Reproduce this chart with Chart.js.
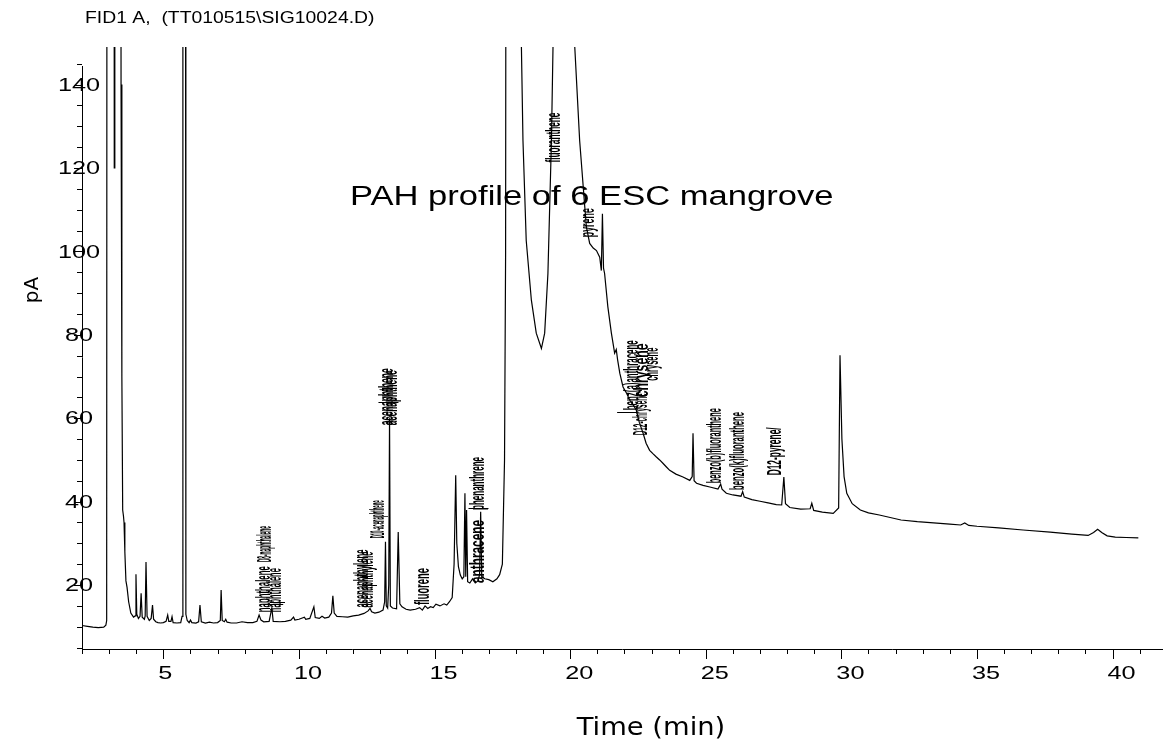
<!DOCTYPE html>
<html>
<head>
<meta charset="utf-8">
<script src="https://cdn.jsdelivr.net/npm/chart.js@4.4.0/dist/chart.umd.min.js"></script>
<style>
  html, body { margin: 0; padding: 0; background: #fff; }
  #chrom { display: block; }
</style>
</head>
<body>
<canvas id="chrom" width="1163" height="745"></canvas>
<script>
// retention time (min) and detector signal (pA)
// 400 = peak that runs off the top of the plot
const times = [
  2.00, 2.20, 2.40, 2.60, 2.80, 2.88, 2.91, 2.93, 3.17, 3.19, 3.21, 3.41, 3.44, 3.47, 3.50, 3.53, 3.55, 3.58, 3.62, 3.66,
  3.72, 3.80, 3.90, 3.96, 3.99, 4.02, 4.08, 4.14, 4.18, 4.22, 4.30, 4.33, 4.36, 4.40, 4.48, 4.55, 4.60, 4.64, 4.72, 4.80,
  4.90, 5.00, 5.10, 5.16, 5.20, 5.28, 5.32, 5.36, 5.50, 5.64, 5.69, 5.72, 5.80, 5.83, 5.88, 5.95, 6.00, 6.05, 6.20, 6.30,
  6.35, 6.40, 6.55, 6.70, 6.85, 7.00, 7.10, 7.13, 7.17, 7.25, 7.30, 7.35, 7.50, 7.70, 7.90, 8.10, 8.30, 8.45, 8.53, 8.60,
  8.70, 8.90, 9.00, 9.05, 9.30, 9.50, 9.70, 9.80, 9.85, 10.00, 10.20, 10.25, 10.40, 10.55, 10.60, 10.75, 10.85, 10.95, 11.10, 11.20,
  11.25, 11.30, 11.40, 11.60, 11.80, 12.00, 12.20, 12.40, 12.55, 12.62, 12.68, 12.80, 12.95, 13.10, 13.16, 13.19, 13.22, 13.27, 13.31, 13.34,
  13.37, 13.45, 13.60, 13.66, 13.72, 13.80, 13.95, 14.10, 14.30, 14.45, 14.55, 14.65, 14.75, 14.85, 14.95, 15.05, 15.20, 15.35, 15.45, 15.55,
  15.65, 15.72, 15.78, 15.82, 15.88, 15.95, 16.02, 16.08, 16.12, 16.15, 16.18, 16.22, 16.30, 16.40, 16.50, 16.60, 16.66, 16.70, 16.74, 16.85,
  17.00, 17.15, 17.30, 17.40, 17.50, 17.58, 17.62, 17.66, 18.15, 18.20, 18.26, 18.38, 18.57, 18.75, 18.94, 19.06, 19.18, 19.31, 19.37, 19.40,
  20.15, 20.17, 20.35, 20.54, 20.60, 20.72, 20.85, 20.97, 21.09, 21.15, 21.19, 21.23, 21.27, 21.39, 21.52, 21.64, 21.70, 21.75, 21.83, 21.95,
  22.08, 22.20, 22.30, 22.44, 22.55, 22.69, 22.80, 22.93, 23.05, 23.18, 23.30, 23.42, 23.55, 23.67, 23.90, 24.16, 24.41, 24.50, 24.53, 24.57,
  24.66, 24.90, 25.15, 25.45, 25.55, 25.60, 25.76, 26.00, 26.30, 26.36, 26.42, 26.70, 27.00, 27.30, 27.60, 27.80, 27.88, 27.94, 28.10, 28.50,
  28.85, 28.91, 28.98, 29.30, 29.70, 29.90, 29.95, 30.02, 30.10, 30.20, 30.40, 30.70, 31.00, 31.40, 31.80, 32.20, 32.80, 33.40, 34.00, 34.40,
  34.55, 34.70, 35.00, 35.80, 36.70, 37.70, 38.50, 39.10, 39.30, 39.45, 39.60, 39.80, 40.10, 40.50, 40.95
];
const signal = [
  10.3, 10.1, 9.9, 9.8, 9.9, 10.4, 11.5, 400, 400, 120, 400, 400, 140, 70, 38, 36.5, 35, 28, 21, 19.5,
  16, 13.3, 12.3, 12.6, 22.6, 13, 12, 12.5, 18, 12.3, 11.8, 12.6, 25.5, 12.5, 11.5, 12, 15.2, 11.8, 11.2, 11.0,
  10.9, 11.0, 11.3, 12.8, 11.3, 11.3, 12.4, 11.0, 10.9, 11.0, 12.5, 400, 400, 13, 11.5, 11.0, 11.6, 11.0, 10.9, 11.2,
  15.2, 11.2, 10.9, 11.1, 10.9, 11.0, 11.5, 18.8, 11.5, 11.2, 11.8, 11.1, 10.9, 10.9, 11.2, 11.0, 11.0, 11.3, 12.8, 11.6,
  11.2, 11.3, 14.5, 11.3, 11.2, 11.3, 11.6, 12.3, 11.6, 11.8, 12.3, 11.8, 12.0, 14.8, 12.2, 12.0, 12.5, 12.1, 12.3, 13.3,
  17.4, 13.3, 12.5, 12.4, 12.3, 12.6, 12.8, 13.2, 13.8, 14.4, 13.6, 13.3, 13.5, 14.0, 16, 30.4, 15, 14.5, 20, 60,
  15, 14.5, 14.3, 32.7, 15.5, 14.8, 14.2, 14.0, 14.2, 14.6, 14.0, 15.0, 14.4, 14.8, 14.6, 15.4, 15.0, 15.5, 15.2, 16.0,
  17.0, 25, 46.3, 30, 24.4, 22.4, 21.5, 22, 42, 22, 38, 20.8, 20.5, 21.5, 20.5, 21, 22.5, 37.6, 22, 21.5,
  21.3, 20.8, 21.5, 22.5, 25, 50, 100, 400, 400, 150, 126.6, 102.6, 88.3, 80.4, 76.7, 80.4, 94.7, 126.6, 150, 400,
  400, 149, 126.6, 110.6, 105.8, 101.9, 100.8, 100.2, 98.6, 95.4, 109, 96, 94.7, 86.7, 80.4, 75.6, 76.5, 74, 70.8, 67.5,
  66, 64.3, 63.5, 61.9, 59, 56.4, 54, 52.3, 51.5, 50.7, 50, 49.2, 48.3, 47.5, 46.6, 45.9, 45.1, 46, 56.4, 45,
  44.4, 43.9, 43.5, 43, 44.2, 43, 42, 41.6, 41.3, 42.4, 41.1, 40.5, 40.1, 39.7, 39.3, 39.2, 45.9, 39.5, 38.6, 38.2,
  38.3, 39.6, 37.9, 37.5, 37.2, 38.5, 75.1, 55, 46, 42, 39.5, 38, 37.3, 36.8, 36.2, 35.6, 35.2, 34.9, 34.6, 34.4,
  34.9, 34.3, 34.1, 33.7, 33.2, 32.7, 32.2, 31.9, 32.6, 33.4, 32.6, 31.8, 31.5, 31.4, 31.3
];

// peak annotations: retention time, signal where the label starts, name, label length (px)
const peakTimes  = [8.72, 8.75, 9.12, 12.35, 12.5, 12.92, 13.27, 13.4, 14.59, 16.6, 16.6, 19.43, 20.65, 22.27, 22.64, 22.62, 23.04, 25.34, 26.2, 27.56];
const peakLevels = [13.5, 25.5, 13.5, 14.6, 14.6, 31.2, 58.3, 58.3, 15.2, 20.5, 38.0, 121.3, 103.4, 61.9, 65.0, 55.9, 69.0, 44.4, 42.8, 46.3];
const peakNames  = ['naphthalene', 'D8-naphthalene', 'naphthalene', 'acenaphthylene', 'acenaphthylene', 'D10-acenaphthene',
  'acenaphthene', 'acenaphthene', 'fluorene', 'anthracene', 'phenanthrene', 'fluoranthene', 'pyrene',
  'benz(a)anthracene', 'chrysene', 'D12-chrysene', 'chrysene', 'benzo(b)fluoranthene', 'benzo(k)fluoranthene', 'D12-pyrene/'];
const peakLens   = [46, 36, 44, 58, 56, 38, 57, 55, 37, 63, 53, 50, 29, 70, 54, 42, 33, 75, 78, 48];

// short baseline marks drawn by the integrator next to some peaks
const markTimes  = [9.05, 13.3, 16.62, 22.1];
const markLevels = [15.4, 63.8, 38.4, 61.4];

const xTickMajor = [5, 10, 15, 20, 25, 30, 35, 40];
const yTickMajor = [20, 40, 60, 80, 100, 120, 140];

const points = times.map((t, i) => ({ x: t, y: signal[i] }));

// text helper: the original print is stretched sideways a little
function stretchedText(ctx, text, x, y, font, sx, align) {
  ctx.save();
  ctx.font = font;
  const w = ctx.measureText(text).width * sx;
  let left = x;
  if (align === 'center') left = x - w / 2;
  if (align === 'right') left = x - w;
  ctx.translate(left, y);
  ctx.scale(sx, 1);
  ctx.textAlign = 'left';
  ctx.fillText(text, 0, 0);
  ctx.restore();
}

const axesPlugin = {
  id: 'chemstationAxes',
  afterDraw(chart) {
    const ctx = chart.ctx;
    const xs = chart.scales.x;
    const ys = chart.scales.y;
    const area = chart.chartArea;
    ctx.save();
    ctx.strokeStyle = '#000';
    ctx.fillStyle = '#000';
    ctx.lineWidth = 1;

    // axis lines
    ctx.beginPath();
    ctx.moveTo(area.left, area.bottom + 0.5);
    ctx.lineTo(area.right, area.bottom + 0.5);
    ctx.moveTo(area.left + 0.5, area.bottom);
    ctx.lineTo(area.left + 0.5, 66);
    ctx.stroke();

    // x ticks: minor every minute, major every 5
    ctx.beginPath();
    for (let t = 2; t <= 41; t++) {
      const px = Math.round(xs.getPixelForValue(t)) + 0.5;
      const len = t % 5 === 0 ? 10 : 5;
      ctx.moveTo(px, area.bottom);
      ctx.lineTo(px, area.bottom + len);
    }
    // y ticks: minor every 5 pA
    for (let v = 5; v <= 145; v += 5) {
      const py = Math.round(ys.getPixelForValue(v)) + 0.5;
      const len = v % 20 === 0 ? 8 : 5;
      ctx.moveTo(area.left, py);
      ctx.lineTo(area.left - len, py);
    }
    // baseline marks
    markTimes.forEach((t, i) => {
      const px = xs.getPixelForValue(t);
      const py = Math.round(ys.getPixelForValue(markLevels[i])) + 0.5;
      ctx.moveTo(px - 10, py);
      ctx.lineTo(px + 10, py);
    });
    ctx.stroke();

    ctx.textBaseline = 'middle';
    xTickMajor.forEach(t => {
      stretchedText(ctx, String(t), xs.getPixelForValue(t) - 5, 674, '19px "Liberation Sans", Arial', 1.33, 'left');
    });
    yTickMajor.forEach(v => {
      stretchedText(ctx, String(v), area.left - 3, ys.getPixelForValue(v) + 1, '19px "Liberation Sans", Arial', 1.33, 'center');
    });

    // titles
    ctx.textBaseline = 'alphabetic';
    stretchedText(ctx, 'FID1 A,  (TT010515\\SIG10024.D)', 85, 23, '16px "Liberation Sans", Arial', 1.21, 'left');
    stretchedText(ctx, 'Time (min)', 651, 735, '24px "DejaVu Sans", Verdana', 1.14, 'center');
    stretchedText(ctx, 'PAH profile of 6 ESC mangrove', 350, 205, '27px "Liberation Sans", Arial', 1.28, 'left');

    ctx.save();
    ctx.translate(38, 290);
    ctx.rotate(-Math.PI / 2);
    ctx.font = '20px "DejaVu Sans", Verdana';
    ctx.textAlign = 'center';
    ctx.fillText('pA', 0, 0);
    ctx.restore();

    // peak names, written upward and squeezed to fit
    ctx.font = 'bold 21px "Liberation Sans", Arial';
    ctx.textBaseline = 'middle';
    peakNames.forEach((name, i) => {
      const px = xs.getPixelForValue(peakTimes[i]);
      const py = ys.getPixelForValue(peakLevels[i]);
      const w = ctx.measureText(name).width;
      ctx.save();
      ctx.translate(px, py);
      ctx.rotate(-Math.PI / 2);
      ctx.scale(peakLens[i] / w, 1);
      ctx.textAlign = 'left';
      ctx.fillText(name, 0, 0);
      ctx.restore();
    });
    ctx.restore();
  }
};

new Chart(document.getElementById('chrom').getContext('2d'), {
  type: 'scatter',
  data: {
    datasets: [{
      data: points,
      showLine: true,
      borderColor: '#000',
      borderWidth: 1.2,
      pointRadius: 0,
      tension: 0
    }]
  },
  options: {
    responsive: false,
    animation: false,
    devicePixelRatio: 1,
    layout: { padding: { left: 82, top: 47, right: 0, bottom: 96 } },
    scales: {
      x: { type: 'linear', min: 2, max: 41.86, display: false },
      y: { type: 'linear', min: 4.67, max: 149, display: false }
    },
    plugins: {
      legend: { display: false },
      tooltip: { enabled: false }
    }
  },
  plugins: [axesPlugin]
});
</script>
</body>
</html>
